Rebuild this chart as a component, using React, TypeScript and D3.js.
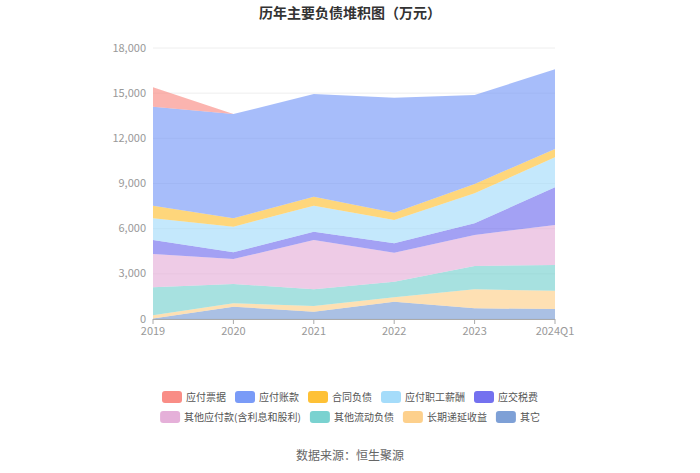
import React from "react";
import * as d3 from "d3";

const categories = ["2019", "2020", "2021", "2022", "2023", "2024Q1"];
const seriesNames = ["应付票据", "应付账款", "合同负债", "应付职工薪酬", "应交税费", "其他应付款(含利息和股利)", "其他流动负债", "长期递延收益", "其它"];
const notesPayable = [1290, 0, 0, 0, 0, 0];
const accountsPayable = [6575, 6926, 6820, 7640, 5913, 5293];
const contractLiab = [835, 557, 600, 484, 619, 552];
const payroll = [1443, 1703, 1725, 1549, 1992, 1993];
const taxes = [930, 445, 553, 623, 777, 2503];
const otherPayables = [2214, 1660, 3277, 1926, 2059, 2657];
const otherCurrent = [1853, 1285, 1107, 1037, 1550, 1707];
const deferredIncome = [220, 220, 376, 291, 1262, 1216];
const others = [30, 820, 487, 1150, 708, 664];
const yTicks = [0, 3000, 6000, 9000, 12000, 15000, 18000];
const colors = ["#f98d86", "#7a9bf7", "#fec136", "#a5dcfa", "#7471ef", "#e5b0d9", "#7ad2d0", "#fdd08c", "#7ea0d6"];

const seriesValues = [notesPayable, accountsPayable, contractLiab, payroll, taxes, otherPayables, otherCurrent, deferredIncome, others];

export default function App() {
  const W = 700, H = 473;
  const x = d3.scalePoint<string>().domain(categories).range([153, 555]);
  const y = d3.scaleLinear().domain([0, 18000]).range([319, 48]);

  const rows = categories.map((c, i) => {
    const r: any = { cat: c };
    seriesNames.forEach((n, k) => (r[n] = seriesValues[k][i]));
    return r;
  });
  const keys = [...seriesNames].reverse();
  const stacked = d3.stack<any>().keys(keys)(rows);
  const area = d3
    .area<any>()
    .x((d) => x(d.data.cat)!)
    .y0((d) => y(d[0]))
    .y1((d) => y(d[1]));

  const fmt = d3.format(",");

  const fontSize = 10;
  const textW = (s: string) => {
    let w = 0;
    for (const ch of s) w += /[\x00-\x7f]/.test(ch) ? 3.4 : fontSize;
    return w;
  };
  const rowsLegend = [seriesNames.slice(0, 5), seriesNames.slice(5)];
  const sw = 20, sh = 12, pad = 4, gap = 9;

  return (
    <svg width={W} height={H} style={{ position: "absolute", left: 0, top: 0, background: "#fff" }} fontFamily="'Noto Sans CJK SC', 'Noto Sans', sans-serif">
      <text x={350} y={18} textAnchor="middle" fontSize={14} fontWeight="bold" fill="#333">历年主要负债堆积图（万元）</text>
      {yTicks.map((t) => (
        <g key={t}>
          <line x1={153} x2={555} y1={y(t)} y2={y(t)} stroke="#eeeeee" strokeWidth={1} />
          <text x={146} y={y(t) + 3.5} textAnchor="end" fontSize={11} fill="#999">{fmt(t)}</text>
        </g>
      ))}
      {stacked.map((s) => {
        const idx = seriesNames.indexOf(s.key);
        return <path key={s.key} d={area(s as any)!} fill={colors[idx]} fillOpacity={0.66} stroke="none" />;
      })}
      <line x1={153} x2={555} y1={319.5} y2={319.5} stroke="#aaa" strokeWidth={1} />
      {categories.map((c) => (
        <g key={c}>
          <line x1={x(c)!} x2={x(c)!} y1={319} y2={324} stroke="#aaa" />
          <text x={x(c)!} y={335} textAnchor="middle" fontSize={11} fill="#999">{c}</text>
        </g>
      ))}
      {rowsLegend.map((items, ri) => {
        const total = items.reduce((a, n) => a + sw + pad + textW(n), 0) + gap * (items.length - 1);
        let cx = 350 - total / 2;
        const cy = 397 + ri * 20;
        return items.map((n) => {
          const idx = seriesNames.indexOf(n);
          const x0 = cx;
          cx += sw + pad + textW(n) + gap;
          return (
            <g key={n}>
              <rect x={x0} y={cy - sh / 2} width={sw} height={sh} rx={3} fill={colors[idx]} />
              <text x={x0 + sw + pad} y={cy + 3.5} fontSize={fontSize} fill="#555">{n}</text>
            </g>
          );
        });
      })}
      <text x={350} y={460} textAnchor="middle" fontSize={12} fill="#666">数据来源：恒生聚源</text>
    </svg>
  );
}
